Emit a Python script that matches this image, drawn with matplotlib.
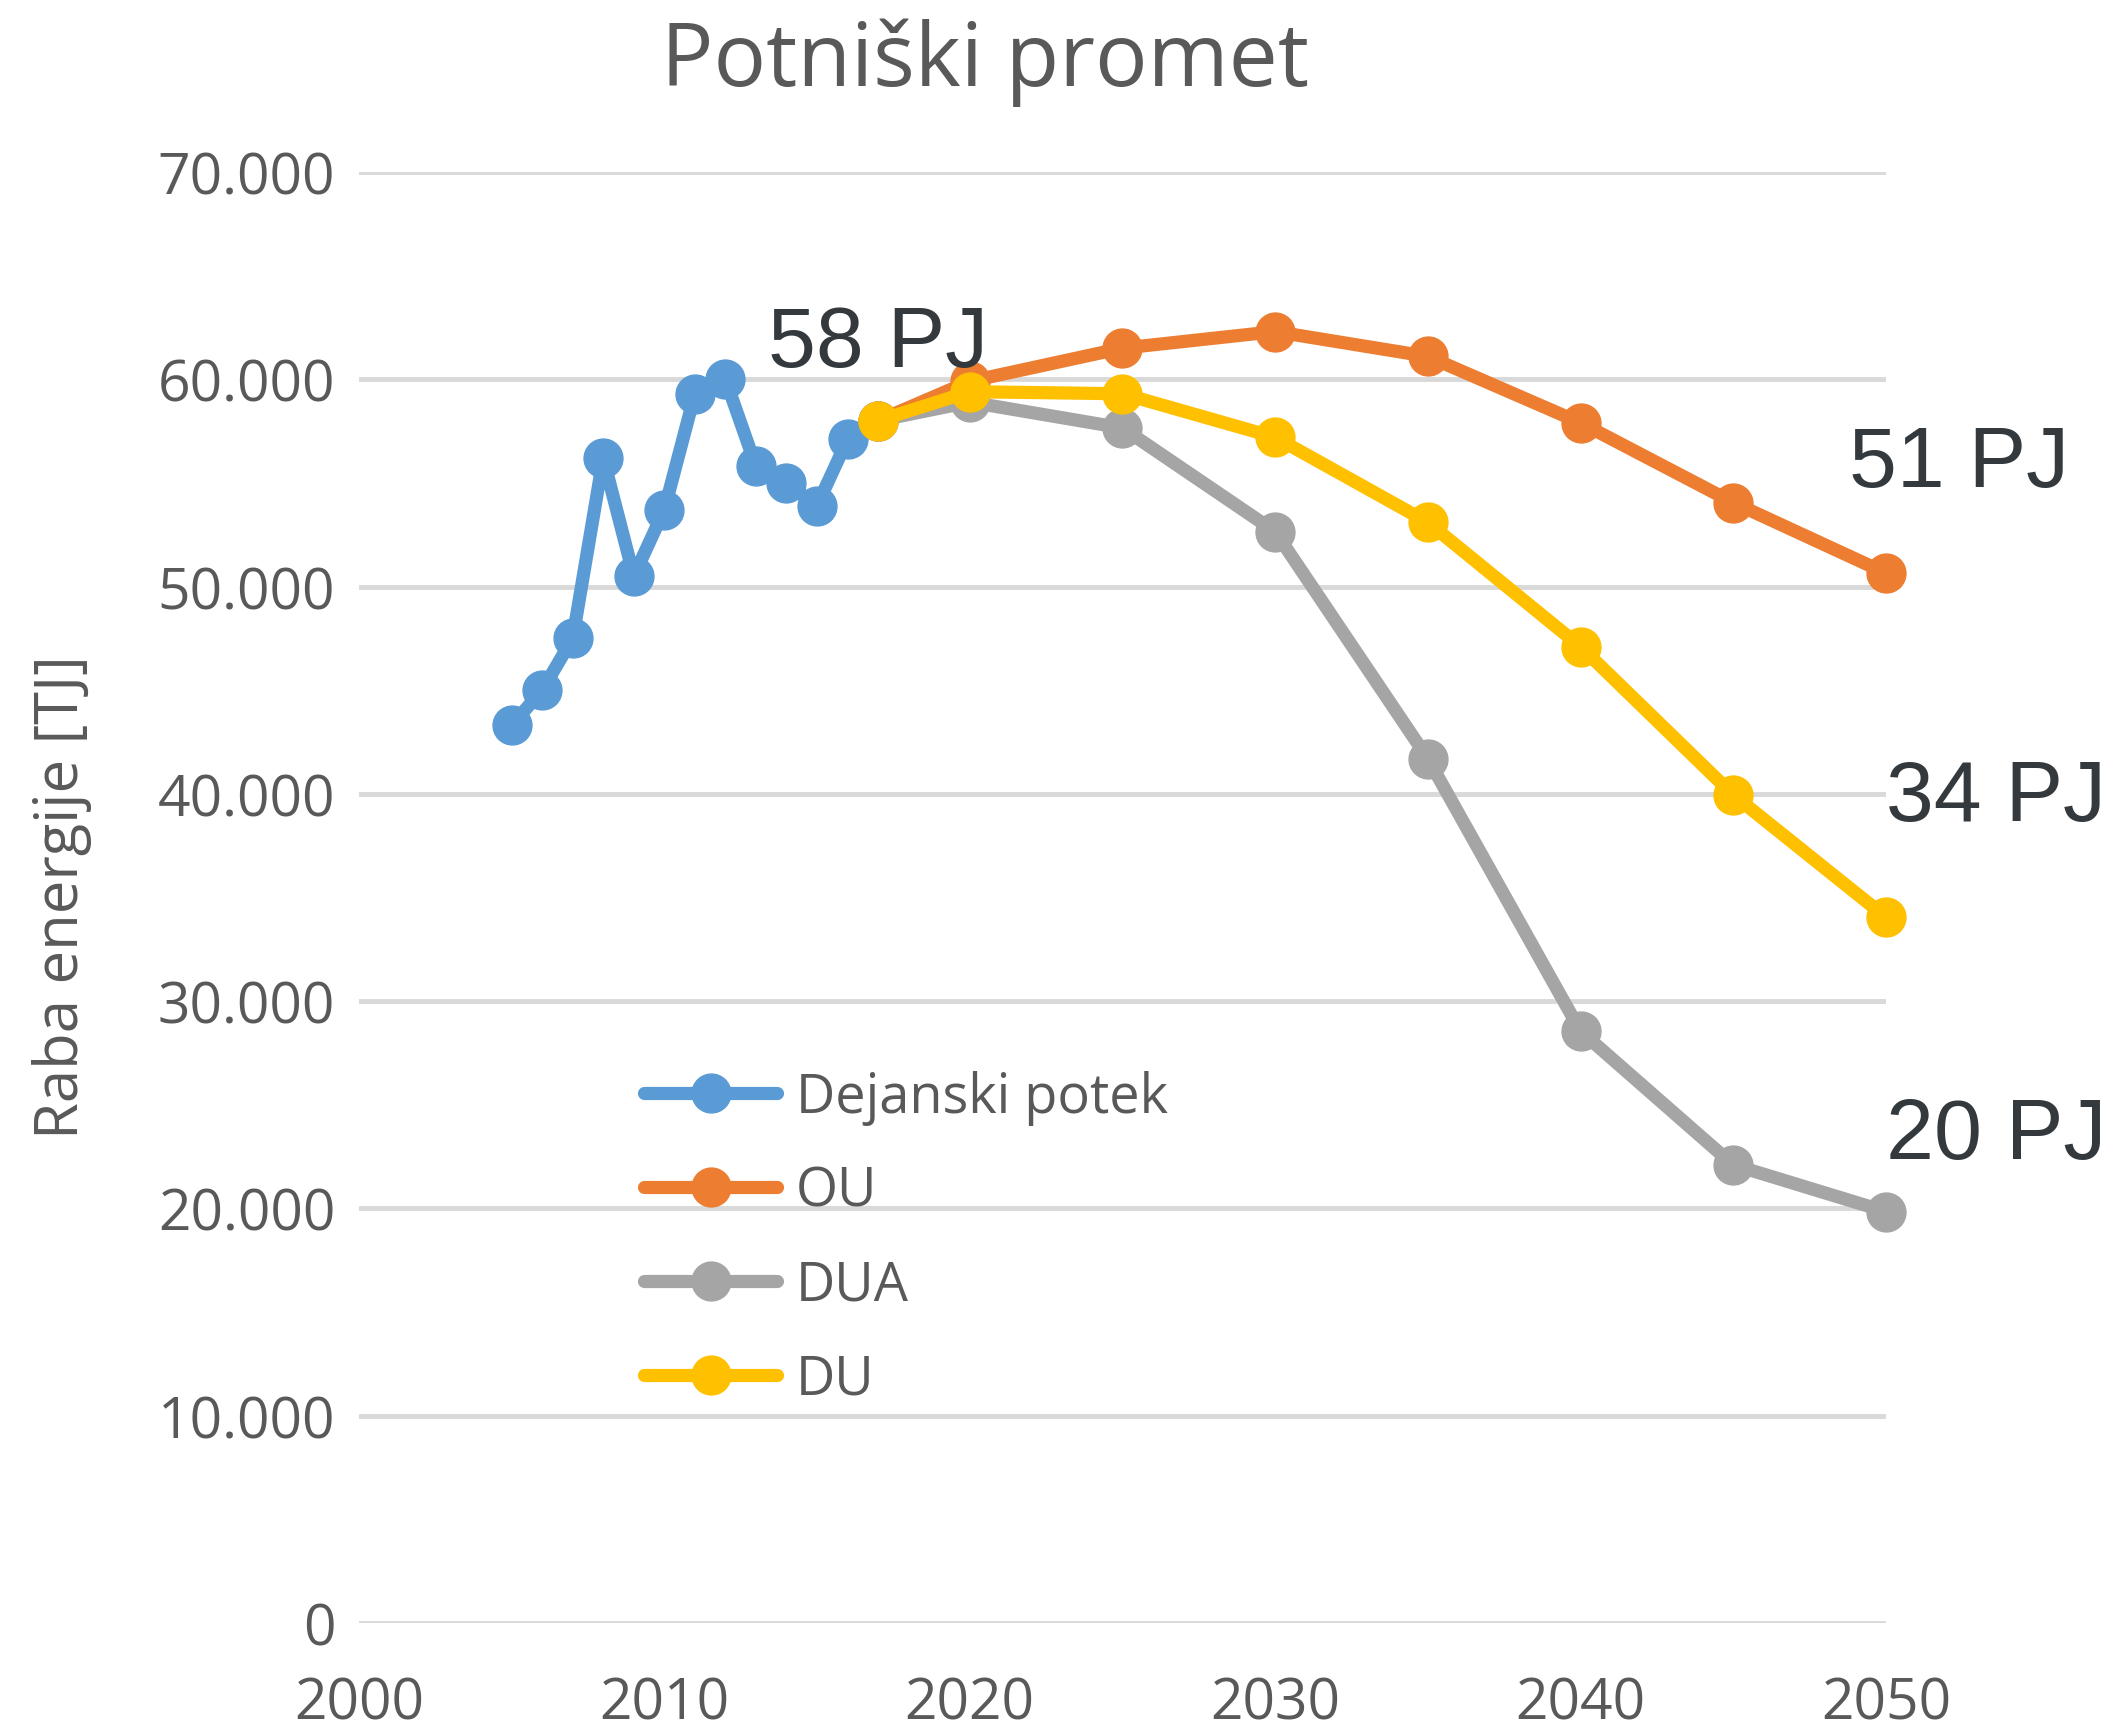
import matplotlib
matplotlib.use("Agg")
import matplotlib.pyplot as plt

# ---- data ----
years_actual = [2005, 2006, 2007, 2008, 2009, 2010, 2011, 2012, 2013, 2014, 2015, 2016, 2017]
actual = [43300, 45000, 47500, 56200, 50500, 53700, 59300, 60000, 55800, 55000, 53900, 57100, 58000]

years_scen = [2017, 2020, 2025, 2030, 2035, 2040, 2045, 2050]
ou = [58000, 59900, 61500, 62300, 61100, 57900, 54050, 50650]
dua = [58000, 58900, 57650, 52650, 41700, 28550, 22100, 19850]
du = [58000, 59400, 59300, 57200, 53100, 47100, 39950, 34050]

series_names = ["Dejanski potek", "OU", "DUA", "DU"]
colors = ["#5B9BD5", "#ED7D31", "#A5A5A5", "#FFC000"]

yticks = [0, 10000, 20000, 30000, 40000, 50000, 60000, 70000]
ytick_labels = ["0", "10.000", "20.000", "30.000", "40.000", "50.000", "60.000", "70.000"]
xticks = [2000, 2010, 2020, 2030, 2040, 2050]

annotations = [("58 PJ", 2017.0, 61700), ("51 PJ", 2052.4, 55900),
               ("34 PJ", 2053.6, 39800), ("20 PJ", 2053.6, 23500)]

title = "Potniški promet"
ylabel = "Raba energije [TJ]"

# ---- figure ----
txt_color = "#595959"
font = "Open Sans"
fig = plt.figure(figsize=(21.15, 17.33), dpi=100)
ax = fig.add_axes([0.1697, 0.0629, 0.8917 - 0.1697, 0.9002 - 0.0629])

lw = 9.5
ms = 28
for xs, ys, name, c in [(years_actual, actual, series_names[0], colors[0]),
                        (years_scen, ou, series_names[1], colors[1]),
                        (years_scen, dua, series_names[2], colors[2]),
                        (years_scen, du, series_names[3], colors[3])]:
    ax.plot(xs, ys, color=c, lw=lw, marker="o", ms=ms, label=name,
            solid_capstyle="round", solid_joinstyle="round", clip_on=False)

ax.set_xlim(2000, 2050)
ax.set_ylim(0, 70000)
ax.set_yticks(yticks)
ax.set_yticklabels(ytick_labels)
ax.set_xticks(xticks)
ax.grid(axis="y", color="#D9D9D9", lw=3.5)
ax.set_axisbelow(True)
for s in ax.spines.values():
    s.set_visible(False)
ax.tick_params(axis="both", length=0, labelsize=41, labelcolor=txt_color)
ax.tick_params(axis="y", pad=17)
ax.tick_params(axis="x", pad=38)
for lab in ax.get_xticklabels() + ax.get_yticklabels():
    lab.set_fontfamily(font)

fig.text(0.4657, 0.9636, title, ha="center", va="center", fontsize=63,
         color=txt_color, family=font)
fig.text(0.0295, 0.4824, ylabel, ha="center", va="center", rotation=90,
         fontsize=43, color=txt_color, family=font)

for t, x, y in annotations:
    ax.text(x, y, t, ha="center", va="center", fontsize=62, color="#33393D",
            family="Liberation Sans", clip_on=False)

leg = ax.legend(loc="upper left", bbox_to_anchor=(0.155, 0.415), frameon=False,
                prop={"family": font, "size": 39}, handlelength=2.45,
                handletextpad=0.35, labelspacing=0.72, labelcolor=txt_color)

fig.savefig("out.png", dpi=100, facecolor="white")
